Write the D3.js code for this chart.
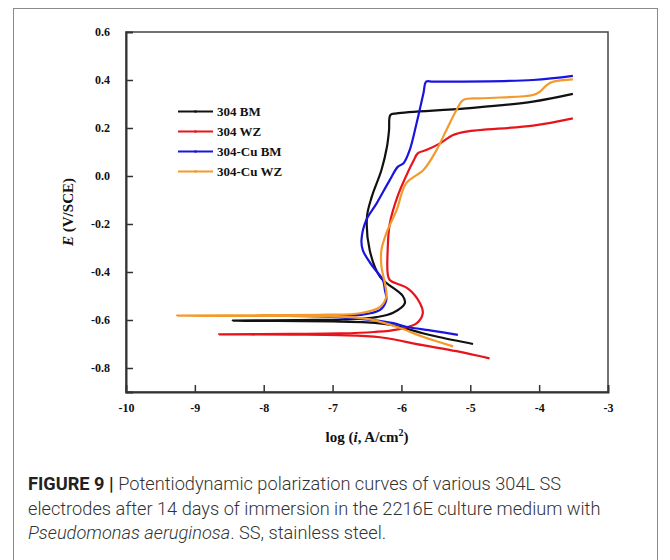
<!DOCTYPE html>
<html>
<head>
<meta charset="utf-8">
<script src="https://cdn.jsdelivr.net/npm/d3@7"></script>
<style>
  body { margin: 0; background: #fff; }
</style>
</head>
<body>
<div class="board"></div>
<script>
// polarization curves, [log i, E], cathodic end first
var seriesNames = ['304 BM', '304 WZ', '304-Cu BM', '304-Cu WZ'];
var seriesColors = ['#111111', '#e8141c', '#1a14e0', '#f39a2c'];

var bm304 = [
  [-4.96, -0.700], [-5.44, -0.672], [-5.69, -0.655], [-5.88, -0.640], [-6.12, -0.622],
  [-6.50, -0.610], [-7.00, -0.606], [-7.80, -0.604], [-8.45, -0.603],
  [-7.50, -0.600], [-6.85, -0.598], [-6.36, -0.588], [-6.12, -0.570], [-5.95, -0.530],
  [-5.98, -0.500], [-6.31, -0.420], [-6.46, -0.310], [-6.50, -0.170], [-6.43, -0.086],
  [-6.29, 0.025], [-6.21, 0.122], [-6.18, 0.190], [-6.16, 0.254], [-6.07, 0.261],
  [-5.06, 0.282], [-4.09, 0.310], [-3.51, 0.342]
];
var wz304 = [
  [-4.72, -0.760], [-5.20, -0.730], [-5.69, -0.705], [-6.31, -0.672], [-6.90, -0.663],
  [-7.60, -0.661], [-8.65, -0.660],
  [-7.60, -0.658], [-6.90, -0.656], [-6.40, -0.650], [-6.07, -0.640], [-5.78, -0.614],
  [-5.69, -0.572], [-5.73, -0.530], [-5.90, -0.470], [-6.17, -0.433], [-6.20, -0.405],
  [-6.20, -0.310], [-6.17, -0.200], [-6.05, -0.080], [-5.90, 0.020], [-5.83, 0.060],
  [-5.76, 0.095], [-5.64, 0.108], [-5.44, 0.136], [-5.25, 0.171], [-5.06, 0.185],
  [-4.09, 0.210], [-3.51, 0.240]
];
var cuBm304 = [
  [-5.18, -0.662], [-5.54, -0.645], [-5.93, -0.628], [-6.12, -0.613], [-6.60, -0.595],
  [-7.20, -0.585], [-7.80, -0.582],
  [-7.20, -0.580], [-6.60, -0.579], [-6.31, -0.558], [-6.22, -0.517], [-6.24, -0.475],
  [-6.27, -0.433], [-6.41, -0.380], [-6.56, -0.310], [-6.58, -0.267], [-6.51, -0.183],
  [-6.36, -0.114], [-6.17, -0.017], [-6.05, 0.039], [-5.97, 0.053], [-5.88, 0.108],
  [-5.78, 0.220], [-5.68, 0.345], [-5.64, 0.393], [-5.54, 0.393], [-4.09, 0.400],
  [-3.51, 0.417]
];
var cuWz304 = [
  [-5.25, -0.710], [-5.69, -0.670], [-6.07, -0.628], [-6.50, -0.595], [-7.10, -0.585],
  [-8.00, -0.583], [-9.26, -0.582],
  [-8.00, -0.580], [-7.09, -0.578], [-6.60, -0.572], [-6.31, -0.545], [-6.22, -0.503],
  [-6.24, -0.447], [-6.29, -0.378], [-6.29, -0.308], [-6.22, -0.239], [-6.07, -0.142],
  [-5.93, -0.030], [-5.68, 0.025], [-5.49, 0.108], [-5.35, 0.190], [-5.20, 0.275],
  [-5.10, 0.317], [-4.81, 0.324], [-4.09, 0.3375], [-3.99, 0.351], [-3.89, 0.379],
  [-3.80, 0.393], [-3.51, 0.403]
];
var allSeries = [bm304, wz304, cuBm304, cuWz304];

var xTicks = [-10, -9, -8, -7, -6, -5, -4, -3];
var yTicks = [-0.8, -0.6, -0.4, -0.2, 0.0, 0.2, 0.4, 0.6];

var serif = '"Liberation Serif", "Times New Roman", serif';

var svg = d3.select('.board')
  .append('svg')
  .attr('width', 670)
  .attr('height', 560);

// card border around figure + caption
svg.append('rect')
  .attr('x', 13.5).attr('y', 8.5)
  .attr('width', 644).attr('height', 600)
  .attr('fill', 'none')
  .attr('stroke', '#8a8a8a')
  .attr('stroke-width', 1);

var plotL = 126, plotR = 608, plotT = 32, plotB = 392;

var x = d3.scaleLinear().domain([-10, -3]).range([plotL, plotR]);
var y = d3.scaleLinear().domain([-0.9, 0.6]).range([plotB, plotT]);

// frame
svg.append('rect')
  .attr('x', plotL).attr('y', plotT)
  .attr('width', plotR - plotL).attr('height', plotB - plotT)
  .attr('fill', 'none')
  .attr('stroke', '#444')
  .attr('stroke-width', 1.5);

var xAxis = svg.append('g')
  .attr('transform', 'translate(0,' + plotB + ')')
  .call(d3.axisBottom(x).tickValues(xTicks).tickSize(-7).tickPadding(11)
    .tickFormat(function(d) { return d; }));

var yAxis = svg.append('g')
  .attr('transform', 'translate(' + plotL + ',0)')
  .call(d3.axisLeft(y).tickValues(yTicks).tickSize(-7).tickPadding(16)
    .tickFormat(d3.format('.1f')));

[xAxis, yAxis].forEach(function(g) {
  g.select('.domain').attr('stroke', '#333').attr('stroke-width', 2);
  g.selectAll('.tick line').attr('stroke', '#333').attr('stroke-width', 1.5);
  g.selectAll('.tick text')
    .attr('fill', '#111')
    .style('font-family', serif)
    .style('font-weight', 'bold')
    .style('font-size', '12px');
});
// no ticks at the frame ends
xAxis.selectAll('.tick').filter(function(d) { return d === -10 || d === -3; })
  .select('line').remove();
yAxis.selectAll('.tick').filter(function(d) { return d === 0.6; })
  .select('line').remove();
// plain hyphen minus like the original
yAxis.selectAll('.tick text').text(function(d) { return d.toFixed(1); });

// curves
var line = d3.line()
  .x(function(d) { return x(d[0]); })
  .y(function(d) { return y(d[1]); })
  .curve(d3.curveCatmullRom.alpha(0.5));

svg.selectAll('.curve')
  .data(allSeries)
  .enter()
  .append('path')
  .attr('class', 'curve')
  .attr('d', line)
  .attr('fill', 'none')
  .attr('stroke', function(d, i) { return seriesColors[i]; })
  .attr('stroke-width', 2.2)
  .attr('stroke-linejoin', 'round');

// legend
var legend = svg.selectAll('.legend')
  .data(seriesNames)
  .enter()
  .append('g')
  .attr('class', 'legend')
  .attr('transform', function(d, i) { return 'translate(178,' + (111.5 + i * 20) + ')'; });

legend.append('line')
  .attr('x1', 0).attr('x2', 35)
  .attr('stroke', function(d, i) { return seriesColors[i]; })
  .attr('stroke-width', 2);

legend.append('circle')
  .attr('cx', 17.5).attr('r', 1.3)
  .attr('fill', function(d, i) { return seriesColors[i]; });

legend.append('text')
  .attr('x', 39).attr('dy', '0.35em')
  .style('font-family', serif)
  .style('font-weight', 'bold')
  .style('font-size', '13px')
  .attr('fill', '#111')
  .text(function(d) { return d; });

// axis titles
var xTitle = svg.append('text')
  .attr('x', (plotL + plotR) / 2).attr('y', 442)
  .attr('text-anchor', 'middle')
  .style('font-family', serif)
  .style('font-weight', 'bold')
  .style('font-size', '15px')
  .attr('fill', '#111');
xTitle.append('tspan').text('log (');
xTitle.append('tspan').style('font-style', 'italic').text('i');
xTitle.append('tspan').text(', A/cm');
xTitle.append('tspan').attr('dy', -6).style('font-size', '10px').text('2');
xTitle.append('tspan').attr('dy', 6).text(')');

var yTitle = svg.append('text')
  .attr('transform', 'translate(73,' + ((plotT + plotB) / 2) + ') rotate(-90)')
  .attr('text-anchor', 'middle')
  .style('font-family', serif)
  .style('font-weight', 'bold')
  .style('font-size', '15px')
  .attr('fill', '#111');
yTitle.append('tspan').style('font-style', 'italic').text('E');
yTitle.append('tspan').text(' (V/SCE)');

// caption
var capFont = 'Roboto, "Liberation Sans", sans-serif';
var capLines = [
  [{t: 'FIGURE 9 | ', b: true}, {t: 'Potentiodynamic polarization curves of various 304L SS'}],
  [{t: 'electrodes after 14 days of immersion in the 2216E culture medium with'}],
  [{t: 'Pseudomonas aeruginosa', i: true}, {t: '. SS, stainless steel.'}]
];
capLines.forEach(function(parts, k) {
  var t = svg.append('text')
    .attr('x', 28).attr('y', 490 + k * 24.5)
    .style('font-family', capFont)
    .style('font-size', '18.2px')
    .style('font-weight', 300)
    .attr('fill', '#333');
  parts.forEach(function(p) {
    t.append('tspan')
      .style('font-weight', p.b ? 'bold' : 300)
      .style('font-style', p.i ? 'italic' : 'normal')
      .attr('fill', p.b ? '#222' : '#333')
      .text(p.t);
  });
});
</script>
</body>
</html>
